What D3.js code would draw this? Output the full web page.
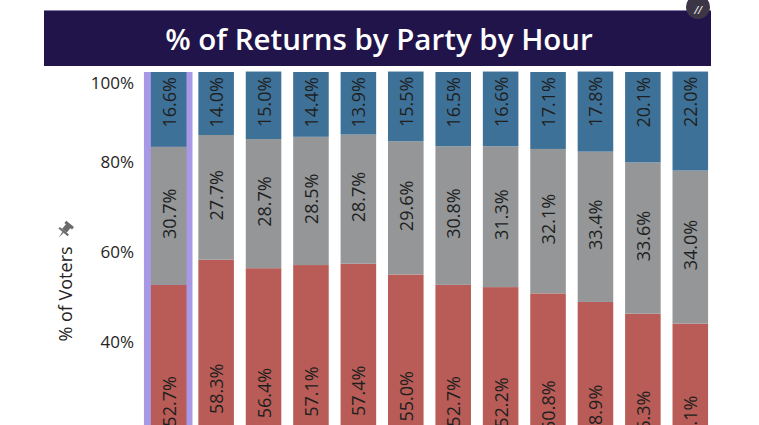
<!DOCTYPE html>
<html>
<head>
<meta charset="utf-8">
<script src="https://cdn.jsdelivr.net/npm/d3@7"></script>
<style>
  html, body { margin: 0; padding: 0; background: #ffffff; }
  svg { display: block; }
</style>
</head>
<body>
<svg id="chart" width="759" height="425"></svg>
<script>
// ---- data ----
const hours = ["7 AM","8 AM","9 AM","10 AM","11 AM","12 PM","1 PM","2 PM","3 PM","4 PM","5 PM","6 PM"];
const redShare  = [52.7, 58.3, 56.4, 57.1, 57.4, 55.0, 52.7, 52.2, 50.8, 48.9, 46.3, 44.1];
const grayShare = [30.7, 27.7, 28.7, 28.5, 28.7, 29.6, 30.8, 31.3, 32.1, 33.4, 33.6, 34.0];
const blueShare = [16.6, 14.0, 15.0, 14.4, 13.9, 15.5, 16.5, 16.6, 17.1, 17.8, 20.1, 22.0];
const yTicks = [0, 20, 40, 60, 80, 100];
const titleText = "% of Returns by Party by Hour";
const yTitle = "% of Voters";
const highlighted = 0;

const keys = ["red", "gray", "blue"];
const colors = { red: "#b95c57", gray: "#949698", blue: "#3e7198" };
const rows = hours.map((h, i) => ({ hour: h, red: redShare[i], gray: grayShare[i], blue: blueShare[i] }));

const svg = d3.select("#chart");
const FONT = "'Open Sans', 'Segoe UI', sans-serif";

// title bar
svg.append("rect").attr("x", 44).attr("y", 10).attr("width", 667).attr("height", 56).attr("fill", "#21144a");
svg.append("line").attr("x1", 44).attr("x2", 711).attr("y1", 10.5).attr("y2", 10.5).attr("stroke", "#8a7fb0").attr("stroke-width", 1);
svg.append("text").attr("x", 379).attr("y", 38).attr("text-anchor", "middle").attr("dominant-baseline", "central")
  .attr("font-family", FONT).attr("font-weight", 600).attr("font-size", 29.5).attr("fill", "#ffffff").text(titleText);

// corner icon
svg.append("circle").attr("cx", 698).attr("cy", 7).attr("r", 12).attr("fill", "#3b3545");
svg.append("text").attr("x", 698).attr("y", 9).attr("text-anchor", "middle").attr("dominant-baseline", "central")
  .attr("font-family", FONT).attr("font-style", "italic").attr("font-size", 11).attr("fill", "#ffffff").text("//");

// scales
const x = d3.scaleBand().domain(hours).range([145, 714]).paddingInner(0.25).paddingOuter(0.125);
const y = d3.scaleLinear().domain([0, 100]).range([522, 72]);

// highlight for selected bar
svg.append("rect")
  .attr("x", x(hours[highlighted]) - 7).attr("y", y(100))
  .attr("width", x.bandwidth() + 13).attr("height", y(0) - y(100) + 10)
  .attr("fill", "#a898e6");

// stacked bars
const stacked = d3.stack().keys(keys)(rows);
const layers = svg.append("g").selectAll("g").data(stacked).join("g").attr("fill", d => colors[d.key]);
layers.selectAll("rect").data(d => d).join("rect")
  .attr("x", d => x(d.data.hour))
  .attr("y", d => y(d[1]))
  .attr("width", x.bandwidth())
  .attr("height", d => y(d[0]) - y(d[1]));

// data labels
stacked.forEach(layer => {
  svg.append("g").selectAll("text").data(layer).join("text")
    .attr("transform", d => {
      const cx = x(d.data.hour) + x.bandwidth() / 2;
      const cy = layer.key === "blue" ? y(d[1]) + 5 : (y(d[0]) + y(d[1])) / 2 - 2;
      return `translate(${cx},${cy}) rotate(-90)`;
    })
    .attr("text-anchor", layer.key === "blue" ? "end" : "middle")
    .attr("dominant-baseline", "central")
    .attr("font-family", FONT).attr("font-size", 18).attr("fill", "#201f1e")
    .text(d => (d[1] - d[0]).toFixed(1) + "%");
});

// y axis
const yAxis = svg.append("g").attr("transform", "translate(134,0)")
  .call(d3.axisLeft(y).tickValues(yTicks).tickFormat(d => d + "%").tickSize(0).tickPadding(0));
yAxis.select(".domain").remove();
yAxis.selectAll("text").attr("font-family", FONT).attr("font-size", 17).attr("fill", "#252423")
  .attr("dy", d => d === 100 ? "0.95em" : "0.32em");

// x axis (below visible area)
const xAxis = svg.append("g").attr("transform", `translate(0,${y(0) + 6})`)
  .call(d3.axisBottom(x).tickSize(0));
xAxis.select(".domain").remove();
xAxis.selectAll("text").attr("font-family", FONT).attr("font-size", 15).attr("fill", "#333333");

// y title
svg.append("text").attr("transform", "translate(65,294) rotate(-90)").attr("text-anchor", "middle")
  .attr("dominant-baseline", "central").attr("font-family", FONT).attr("font-size", 18).attr("fill", "#252423")
  .text(yTitle);

// pin icon
const pin = svg.append("g").attr("transform", "translate(65,230) rotate(40)").attr("fill", "#6b6b6b");
pin.append("rect").attr("x", -5).attr("y", -8).attr("width", 10).attr("height", 3);
pin.append("rect").attr("x", -3).attr("y", -6).attr("width", 6).attr("height", 7);
pin.append("path").attr("d", "M-6,1 L6,1 L6,3 L-6,3 Z");
pin.append("path").attr("d", "M-0.8,3 L0.8,3 L0,10 Z");
</script>
</body>
</html>
